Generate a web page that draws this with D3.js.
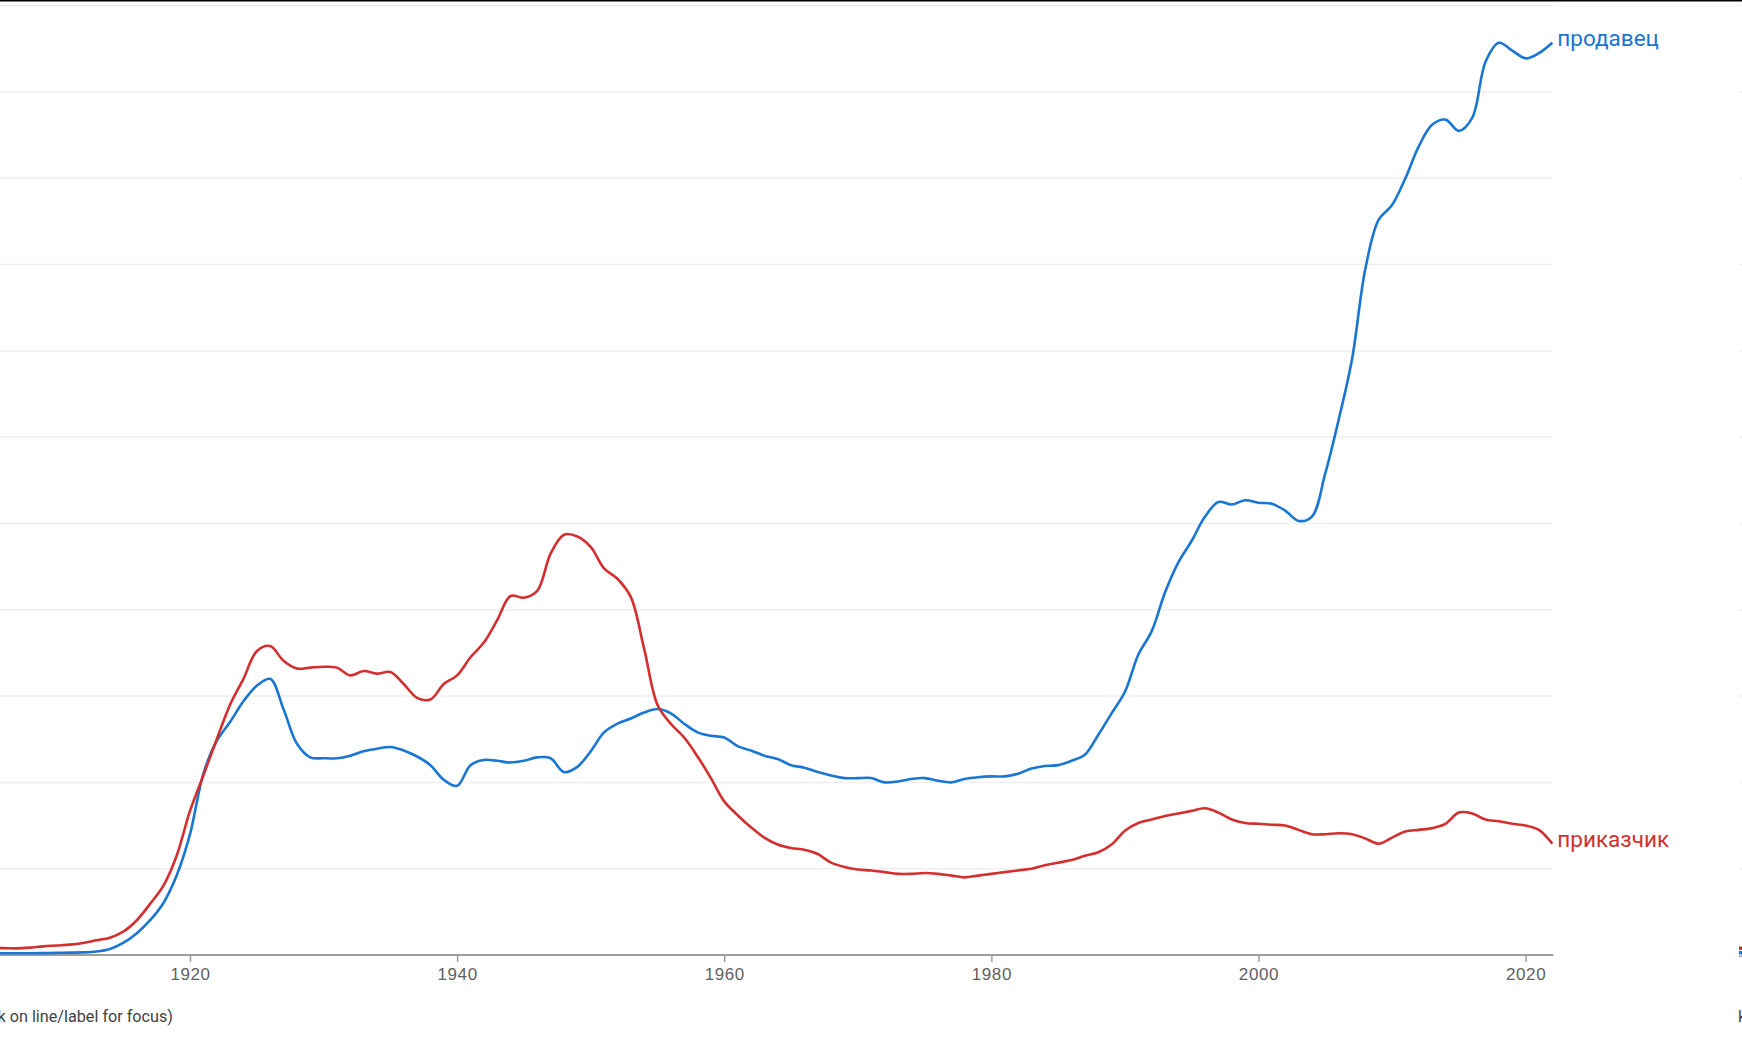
<!DOCTYPE html>
<html>
    <head>
        <meta charset="UTF-8">
        <title>продавец, приказчик</title>
        <style>
            body {margin:0; background:#fff;}
            svg {display:block; font-family: Roboto, sans-serif;}
            .grid line {stroke:#efefef; stroke-width:1.5px;}
            .line {fill:none; stroke-width:2.6px; stroke-linejoin:round;}
            .axis text {font-size:17px; fill:#616161; letter-spacing:0.6px;}
            .axis line, .axis path {stroke:#9e9e9e;}
        </style>
        <script src="https://cdn.jsdelivr.net/npm/d3@7"></script>
    </head>
    <body>
        <svg width="1742" height="1060"></svg>

        <script>
            // years shown (left part of the chart is cropped)
            var years = d3.range(1905, 2023);

            // продавец, one value a year, in gridline units
            var prodavets = [
                0.02, 0.02, 0.02, 0.02, 0.022, 0.025, 0.027, 0.03, 0.04, 0.07,
                0.14, 0.25, 0.40, 0.60, 0.92, 1.40, 2.10, 2.48, 2.70, 2.94,
                3.12, 3.20, 2.85, 2.45, 2.29, 2.28, 2.28, 2.31, 2.36, 2.39,
                2.41, 2.37, 2.30, 2.20, 2.03, 1.96, 2.20, 2.26, 2.25, 2.23,
                2.25, 2.29, 2.28, 2.12, 2.18, 2.36, 2.58, 2.68, 2.74, 2.81,
                2.85, 2.80, 2.68, 2.58, 2.54, 2.52, 2.42, 2.37, 2.31, 2.27,
                2.20, 2.17, 2.12, 2.08, 2.05, 2.05, 2.05, 2.00, 2.01, 2.04,
                2.05, 2.02, 2.00, 2.04, 2.06, 2.07, 2.07, 2.10, 2.16, 2.19,
                2.20, 2.25, 2.32, 2.55, 2.80, 3.05, 3.48, 3.75, 4.20, 4.55,
                4.80, 5.08, 5.25, 5.22, 5.27, 5.24, 5.23, 5.15, 5.03, 5.08,
                5.58, 6.20, 6.90, 7.95, 8.52, 8.69, 9.00, 9.37, 9.62, 9.68,
                9.55, 9.70, 10.35, 10.57, 10.48, 10.39, 10.45, 10.57
            ];

            // приказчик
            var prikazchik = [
                0.08, 0.08, 0.077, 0.085, 0.10, 0.11, 0.12, 0.14, 0.17, 0.20,
                0.27, 0.40, 0.59, 0.80, 1.15, 1.67, 2.08, 2.50, 2.90, 3.20,
                3.52, 3.58, 3.41, 3.32, 3.33, 3.34, 3.33, 3.24, 3.29, 3.26,
                3.28, 3.14, 2.98, 2.96, 3.14, 3.24, 3.45, 3.62, 3.88, 4.16,
                4.14, 4.22, 4.65, 4.87, 4.85, 4.73, 4.48, 4.36, 4.15, 3.55,
                2.90, 2.68, 2.52, 2.30, 2.05, 1.78, 1.62, 1.48, 1.36, 1.28,
                1.24, 1.22, 1.17, 1.07, 1.02, 0.99, 0.98, 0.96, 0.94, 0.94,
                0.95, 0.94, 0.92, 0.90, 0.92, 0.94, 0.96, 0.98, 1.00, 1.04,
                1.07, 1.10, 1.15, 1.19, 1.28, 1.44, 1.53, 1.57, 1.61, 1.64,
                1.67, 1.70, 1.65, 1.57, 1.53, 1.52, 1.51, 1.50, 1.45, 1.40,
                1.40, 1.41, 1.40, 1.35, 1.29, 1.36, 1.43, 1.45, 1.47, 1.52,
                1.65, 1.64, 1.57, 1.55, 1.52, 1.50, 1.45, 1.29
            ];

            var seriesNames = ["продавец", "приказчик"];
            var seriesColors = ["#1976d2", "#d32f2f"];
            var tickYears = [1920, 1940, 1960, 1980, 2000, 2020];

            var svg = d3.select("svg"),
                width = +svg.attr("width");

            var x = d3.scaleLinear().domain([1920, 2020]).range([190, 1525.6]);
            var y = d3.scaleLinear().domain([0, 11]).range([955, 5.7]);
            var xEnd = x(2022);

            // thin black rule along the top
            svg.append("rect").attr("x", 0).attr("y", 0)
                .attr("width", width).attr("height", 1.5).attr("fill", "#000");

            svg.append("clipPath").attr("id", "plot")
                .append("rect").attr("x", 0).attr("y", 0)
                .attr("width", xEnd + 3).attr("height", 960);

            // gridlines
            svg.append("g").attr("class", "grid")
                .selectAll("line")
                .data(y.ticks(11).filter(d => d > 0))
                .enter().append("line")
                .attr("x1", 0).attr("x2", xEnd)
                .attr("y1", d => y(d)).attr("y2", d => y(d));

            // x axis
            var axis = svg.append("g").attr("class", "axis")
                .attr("transform", "translate(0," + y(0) + ")")
                .call(d3.axisBottom(x).tickValues(tickYears)
                    .tickFormat(d3.format("d")).tickSize(7).tickPadding(6));
            axis.select(".domain").remove();
            axis.selectAll(".tick line").attr("stroke-width", 1.5);
            axis.append("line")
                .attr("x1", 0).attr("x2", xEnd + 1)
                .attr("stroke", "#9e9e9e").attr("stroke-width", 2);

            var line = d3.line()
                .x((d, i) => x(years[i]))
                .y(d => y(d))
                .curve(d3.curveCatmullRom.alpha(0.5));

            var all = [prodavets, prikazchik];
            svg.append("g").attr("clip-path", "url(#plot)")
                .selectAll("path")
                .data(all)
                .enter().append("path")
                .attr("class", "line")
                .attr("stroke", (d, i) => seriesColors[i])
                .attr("d", line);

            // series labels at the line ends
            svg.append("g").selectAll("text")
                .data(all)
                .enter().append("text")
                .attr("x", xEnd + 5)
                .attr("y", d => y(d[d.length - 1]) - 3)
                .attr("dominant-baseline", "middle")
                .attr("font-size", 22.5)
                .attr("fill", (d, i) => seriesColors[i])
                .text((d, i) => seriesNames[i]);

            svg.append("text")
                .attr("x", 173).attr("y", 1022)
                .attr("text-anchor", "end")
                .attr("font-size", 16.2).attr("fill", "#424242")
                .text("(Click on line/label for focus)");

            // edge of the neighbouring chart, cut off at the right
            var edge = svg.append("g");
            edge.selectAll("line")
                .data(y.ticks(11).filter(d => d > 0))
                .enter().append("line")
                .attr("x1", 1739).attr("x2", width)
                .attr("y1", d => y(d)).attr("y2", d => y(d))
                .attr("stroke", "#efefef").attr("stroke-width", 1.5);
            edge.selectAll("rect")
                .data(seriesColors.slice().reverse().concat(["#9e9e9e"]))
                .enter().append("rect")
                .attr("x", 1739).attr("width", 4)
                .attr("y", (d, i) => 946.5 + i * 4.5)
                .attr("height", (d, i) => i < 2 ? 3.5 : 1.5)
                .attr("fill", d => d);
            edge.append("text")
                .attr("x", 1738).attr("y", 1022)
                .attr("font-size", 16.2).attr("fill", "#424242")
                .text("k");
        </script>
    </body>
</html>
